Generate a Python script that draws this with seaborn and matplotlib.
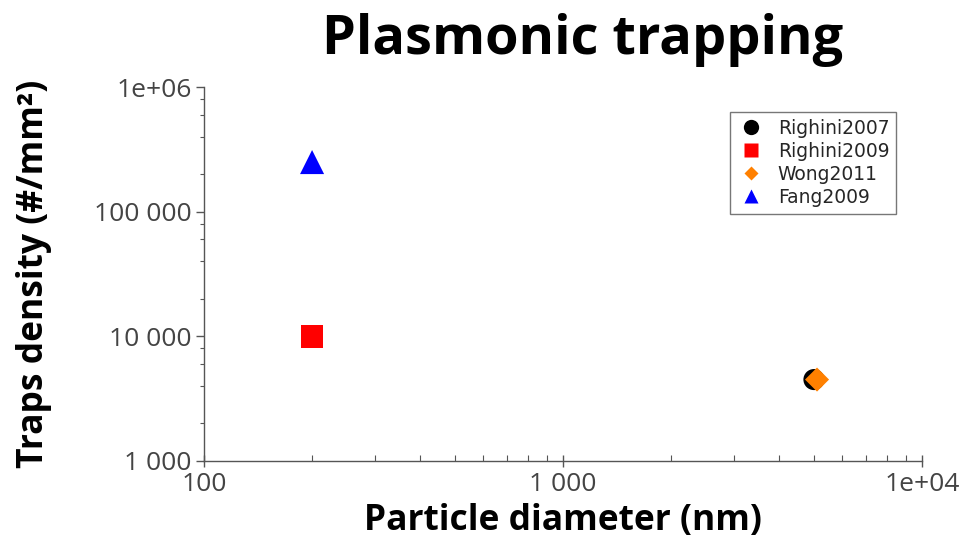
import matplotlib
matplotlib.use("Agg")
import matplotlib.pyplot as plt
from matplotlib.lines import Line2D
from matplotlib.ticker import FixedLocator, FuncFormatter, LogLocator
import seaborn as sns
import pandas as pd

# Published plasmonic trapping results
series = ["Righini2007", "Righini2009", "Wong2011", "Fang2009"]
diameter_nm = [5000, 200, 5100, 200]
traps_per_mm2 = [4500, 10000, 4500, 250000]

colors = {"Righini2007": "#000000", "Righini2009": "#ff0000",
          "Wong2011": "#ff8000", "Fang2009": "#0000ff"}
markers = {"Righini2007": "o", "Righini2009": "s",
           "Wong2011": "D", "Fang2009": "^"}
sizes = {"Righini2007": 230, "Righini2009": 260,
         "Wong2011": 150, "Fang2009": 300}
legend_sizes = {"Righini2007": 11, "Righini2009": 10,
                "Wong2011": 7, "Fang2009": 10}

x_ticks = [100, 1000, 10000]
x_tick_labels = ["100", "1 000", "1e+04"]
y_ticks = [1000, 10000, 100000, 1000000]
y_tick_labels = ["1 000", "10 000", "100 000", "1e+06"]

df = pd.DataFrame({"source": series, "diameter": diameter_nm,
                   "density": traps_per_mm2})

sns.set_theme(style="white")
plt.rcParams["font.family"] = ["Open Sans", "DejaVu Sans"]

fig = plt.figure(figsize=(9.68, 5.4), dpi=100)
ax = fig.add_axes([204 / 968, 79 / 540, 718 / 968, 374 / 540])

for name in series:
    sub = df[df["source"] == name]
    sns.scatterplot(data=sub, x="diameter", y="density", ax=ax,
                    marker=markers[name], s=sizes[name], color=colors[name],
                    edgecolor="none", linewidth=0, legend=False, zorder=3)

ax.set_xscale("log")
ax.set_yscale("log")
ax.set_xlim(100, 10000)
ax.set_ylim(1000, 1000000)

ax.xaxis.set_major_locator(FixedLocator(x_ticks))
ax.xaxis.set_major_formatter(FuncFormatter(
    lambda v, p: x_tick_labels[x_ticks.index(v)] if v in x_ticks else ""))
ax.xaxis.set_minor_locator(LogLocator(base=10, subs=range(2, 10)))
ax.yaxis.set_major_locator(FixedLocator(y_ticks))
ax.yaxis.set_major_formatter(FuncFormatter(
    lambda v, p: y_tick_labels[y_ticks.index(v)] if v in y_ticks else ""))
ax.yaxis.set_minor_locator(LogLocator(base=10, subs=[2, 4, 6, 8]))
ax.xaxis.set_minor_formatter(FuncFormatter(lambda v, p: ""))
ax.yaxis.set_minor_formatter(FuncFormatter(lambda v, p: ""))

for s in ["top", "right"]:
    ax.spines[s].set_visible(False)
for s in ["left", "bottom"]:
    ax.spines[s].set_color("#555555")
    ax.spines[s].set_linewidth(1.0)

ax.tick_params(axis="x", which="major", direction="inout", length=8, width=1,
               color="#555555", labelsize=19, labelcolor="#444444", pad=4,
               bottom=True)
ax.tick_params(axis="x", which="minor", direction="in", length=4, width=0.8,
               color="#555555", bottom=True)
ax.tick_params(axis="y", which="major", direction="out", length=6, width=1,
               color="#555555", labelsize=19, labelcolor="#444444", pad=3,
               left=True)
ax.tick_params(axis="y", which="minor", direction="out", length=3, width=0.8,
               color="#555555", left=True)

ax.set_xlabel("Particle diameter (nm)", fontsize=25.5, fontweight="bold",
              color="black", labelpad=4)
ax.set_ylabel("Traps density (#/mm²)", fontsize=25.5, fontweight="bold",
              color="black", labelpad=30)

fig.text(583 / 968, 1 - 40 / 540, "Plasmonic trapping", fontsize=39,
         fontweight="bold", ha="center", va="center", color="black")

handles = [Line2D([0], [0], linestyle="none", marker=markers[n],
                  markersize=legend_sizes[n], markerfacecolor=colors[n],
                  markeredgecolor="none", label=n) for n in series]
leg = ax.legend(handles=handles, loc="upper right",
                bbox_to_anchor=(896 / 968, 1 - 112 / 540),
                bbox_transform=fig.transFigure, frameon=True, fancybox=False,
                prop={"family": "DejaVu Sans", "size": 13.5},
                handletextpad=0.7, labelspacing=0.22, borderpad=0.35,
                handlelength=1.5, borderaxespad=0)
leg.get_frame().set_edgecolor("#555555")
leg.get_frame().set_linewidth(1.0)

fig.savefig("out.png", dpi=100)
